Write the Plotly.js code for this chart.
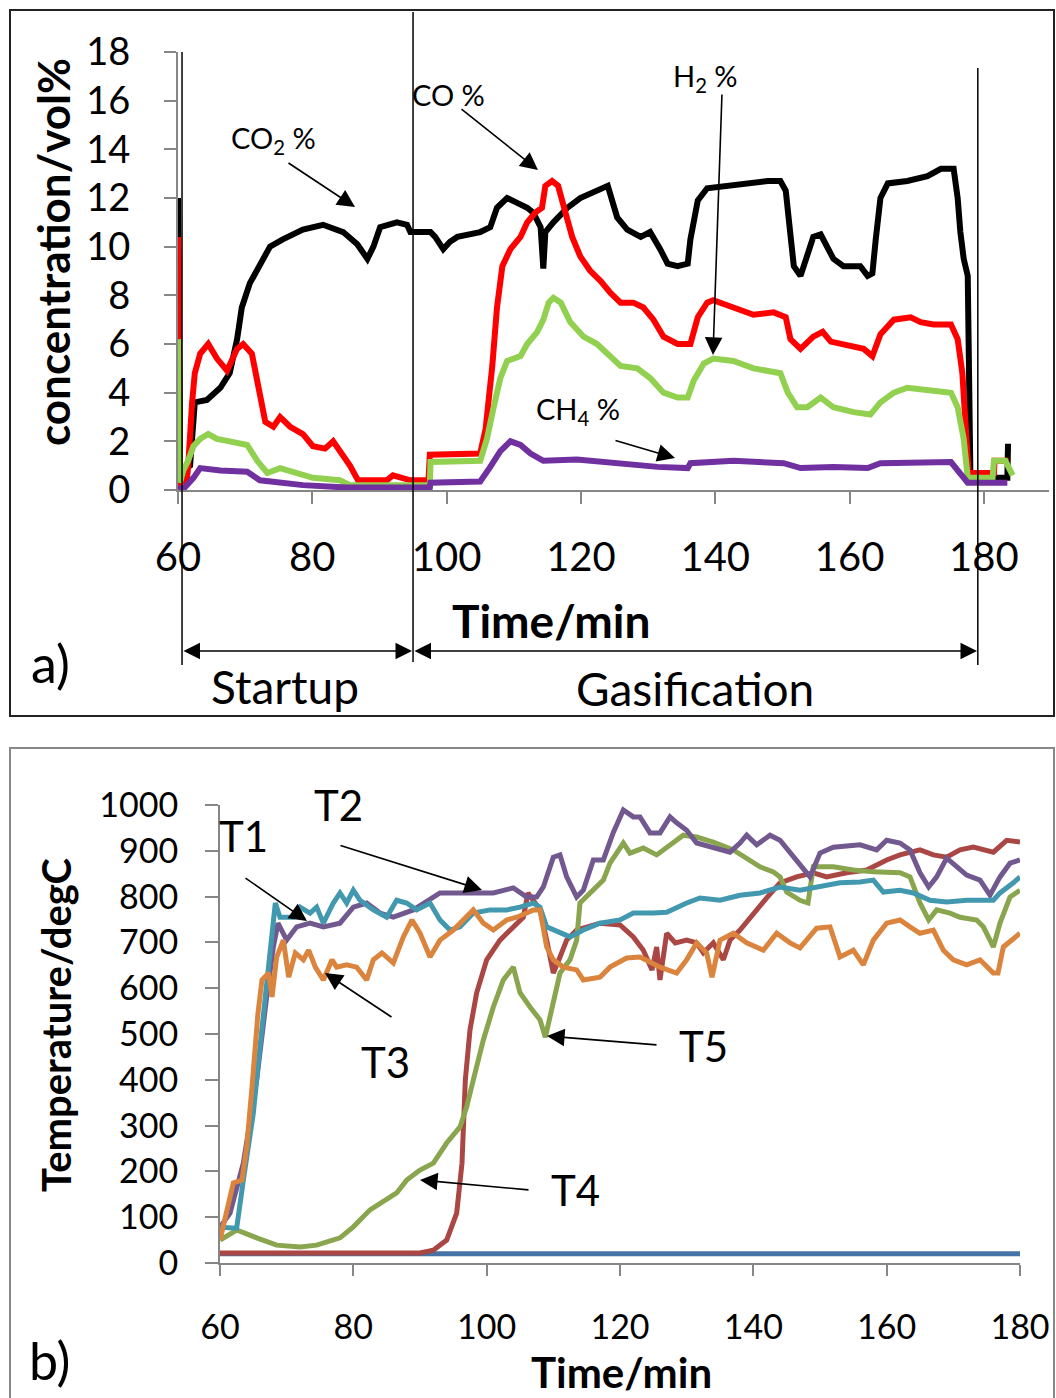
<!DOCTYPE html>
<html>
<head>
<meta charset="utf-8">
<script src="https://cdn.plot.ly/plotly-3.0.1.min.js"></script>
<style>
  html, body { margin: 0; padding: 0; background: #fff; }
  #chart { width: 1056px; height: 1398px; }
</style>
</head>
<body>
<div id="chart"></div>
<script>
// ---------- (a) gas composition, vol% ----------
const co2Time = [60, 60.3, 60.7, 61.8, 62.5, 64.3, 66.3, 67.7, 68.8, 69.5, 70.7, 72.2, 73.7, 75.6, 78.6, 81.6, 84.6, 86.7, 88.2, 89.1, 90.1, 92.6, 94.1, 94.6, 97.6, 98.3, 99.5, 100.5, 101.6, 105, 106.5, 107.5, 109, 110.5, 112, 112.9, 114, 114.4, 114.7, 115.9, 118, 119.9, 122.4, 124, 125.4, 126.9, 128.9, 130.3, 131.8, 132.9, 134.4, 135.9, 136.3, 137.4, 138.8, 143.8, 147.8, 149.7, 150.5, 151, 151.7, 152.7, 153.7, 154.6, 155.7, 156.7, 157.6, 159.1, 161.6, 162.7, 163.4, 163.9, 164.6, 165.7, 168.6, 171.6, 173.6, 175.5, 176.1, 176.5, 177, 177.6, 177.7, 178, 183.5, 183.6];
const co2Vals = [12.0, 0.3, 0.8, 1.0, 3.6, 3.7, 4.2, 4.8, 6.2, 7.5, 8.5, 9.3, 10.0, 10.3, 10.7, 10.9, 10.6, 10.1, 9.5, 10.0, 10.8, 11.0, 10.9, 10.6, 10.6, 10.4, 9.9, 10.2, 10.4, 10.6, 10.8, 11.6, 12.0, 11.8, 11.6, 11.4, 10.8, 9.1, 10.6, 11.0, 11.6, 12.0, 12.3, 12.5, 11.2, 10.7, 10.4, 10.6, 9.9, 9.3, 9.2, 9.3, 10.3, 11.9, 12.4, 12.6, 12.7, 12.7, 12.3, 11.0, 9.2, 8.8, 9.6, 10.4, 10.5, 10.0, 9.5, 9.2, 9.2, 8.8, 8.9, 10.3, 12.0, 12.6, 12.7, 12.9, 13.2, 13.2, 12.0, 10.6, 9.5, 8.8, 4.8, 0.5, 0.5, 1.9];

const coTime = [60, 60.3, 61.3, 61.5, 62.1, 62.5, 63.3, 64.5, 65.8, 67.3, 68.8, 69.7, 71, 72, 73, 74.2, 75.2, 76.7, 78.6, 80.1, 81.9, 83.1, 84.1, 85.6, 86.8, 91.1, 92, 94.6, 97.3, 97.5, 105, 105.8, 106.8, 107.5, 108.3, 109.5, 111, 112, 113.2, 114.2, 114.7, 115.7, 116.6, 117.7, 118.7, 119.9, 121.4, 122.9, 124.4, 125.9, 127.8, 129.3, 130.8, 132.3, 134.4, 136.3, 137.4, 138.8, 139.7, 142.7, 145.7, 148.7, 150.5, 151.2, 152.7, 154.6, 156, 157.2, 158.7, 162.1, 163.4, 164.6, 166.6, 169.1, 170.6, 172.5, 175.1, 176.1, 176.8, 177.3, 177.7, 178, 181.5, 181.6, 183.7];
const coVals = [10.4, 0.3, 0.4, 0.9, 3.6, 4.8, 5.6, 6.0, 5.4, 4.9, 5.8, 6.0, 5.6, 4.1, 2.8, 2.6, 3.0, 2.6, 2.3, 1.8, 1.7, 2.0, 1.6, 1.0, 0.4, 0.4, 0.6, 0.4, 0.4, 1.45, 1.5, 2.5, 5.1, 7.5, 9.2, 9.9, 10.4, 11.0, 11.4, 11.6, 12.5, 12.7, 12.5, 11.4, 10.4, 9.6, 9.0, 8.6, 8.1, 7.7, 7.7, 7.5, 7.0, 6.3, 6.0, 6.0, 7.1, 7.7, 7.8, 7.5, 7.2, 7.3, 7.1, 6.2, 5.8, 6.3, 6.5, 6.1, 6.0, 5.8, 5.5, 6.4, 7.0, 7.1, 6.9, 6.8, 6.8, 6.2, 4.8, 2.8, 0.8, 0.7, 0.7, 1.2, 1.2];

const h2Time = [60, 60.3, 60.8, 61.5, 62.3, 63.3, 64.5, 65.8, 67.7, 70.3, 71.8, 73.3, 75.2, 77.7, 80.1, 84.1, 85.6, 97.5, 97.6, 105, 106, 107, 108, 109, 111, 112, 113.5, 114.4, 115.2, 115.9, 117, 118.4, 120.4, 122.4, 124.4, 125.9, 128.4, 130.3, 132.3, 134.4, 135.9, 136.8, 138.3, 139.7, 142.7, 145.7, 149.7, 150.8, 152.2, 153.7, 155.7, 157.6, 160.6, 163.1, 164.6, 166.6, 168.6, 172.5, 175.1, 176.1, 177, 177.6, 181.3, 181.5, 183.2, 184.3];
const h2Vals = [6.2, 0.3, 0.8, 1.2, 1.8, 2.1, 2.3, 2.1, 2.0, 1.85, 1.2, 0.7, 0.9, 0.7, 0.5, 0.4, 0.2, 0.2, 1.15, 1.2, 2.1, 3.4, 4.6, 5.3, 5.5, 6.0, 6.5, 7.0, 7.7, 7.9, 7.7, 6.9, 6.3, 6.0, 5.5, 5.1, 5.0, 4.6, 4.0, 3.8, 3.8, 4.5, 5.2, 5.4, 5.3, 5.0, 4.8, 4.0, 3.4, 3.4, 3.8, 3.4, 3.2, 3.1, 3.6, 4.0, 4.2, 4.1, 4.0, 3.4, 2.1, 0.5, 0.5, 1.2, 1.2, 0.6];

const ch4Time = [60, 61, 62.3, 63.3, 66.3, 70.3, 72.2, 74.8, 78.6, 85.2, 97.5, 97.6, 105, 106.5, 108, 109.5, 111, 112.5, 114.4, 119.4, 124.4, 131.4, 135.9, 136.3, 142.7, 150.2, 152.7, 157.6, 162.7, 164.6, 175.1, 177, 177.6, 183.5];
const ch4Vals = [0.05, 0.1, 0.5, 0.9, 0.8, 0.75, 0.4, 0.3, 0.2, 0.1, 0.1, 0.3, 0.35, 0.95, 1.6, 2.0, 1.85, 1.5, 1.2, 1.25, 1.1, 0.95, 0.9, 1.1, 1.2, 1.1, 0.9, 0.95, 0.9, 1.1, 1.15, 0.5, 0.3, 0.3];

// phase boundaries (min)
const phaseStart = 60.6, phaseSwitch = 95.0, phaseEnd = 179.1;
const xTicksA = [60, 80, 100, 120, 140, 160, 180];

// ---------- (b) bed temperatures, degC ----------
const baseTime = [60, 180];
const baseVals = [20, 20];

const t5Time = [60, 90, 92, 94, 95.5, 96.3, 96.8, 97.5, 98.5, 100, 102, 104, 105.5, 106.2, 107, 108, 109, 110, 111, 112, 113.5, 115, 117, 120, 122, 123.5, 124.8, 125.5, 126, 127, 128.3, 130, 131.5, 132.5, 134, 135.5, 136.5, 138, 140, 142, 144, 146.5, 149, 151, 154, 157, 160, 162, 165, 167, 169, 171, 173, 176, 178, 180];
const t5Vals = [22, 22, 28, 50, 109, 218, 400, 509, 590, 662, 705, 734, 755, 808, 792, 771, 705, 633, 668, 705, 727, 734, 742, 738, 712, 683, 640, 690, 618, 720, 699, 705, 699, 677, 699, 662, 705, 727, 764, 797, 830, 843, 852, 843, 852, 858, 880, 891, 902, 891, 886, 902, 908, 897, 923, 919];

const t4Time = [60, 62.5, 65.5, 68.5, 72, 74.5, 78, 80, 82.5, 85, 86.5, 88, 90, 92, 94, 96, 97, 98, 99.5, 101, 102.5, 104, 105, 106.5, 108, 108.8, 110, 111, 112.5, 113.5, 114, 115.5, 117.5, 118.5, 120.5, 121.5, 123.5, 125.5, 127.5, 129.5, 131.5, 134, 137, 139, 141, 143, 144, 145, 147, 148.2, 149, 152, 155, 158, 162, 163.5, 165, 166.3, 167.5, 169.5, 171, 173.5, 174.5, 176, 177, 178.5, 180];
const t4Vals = [50, 72, 55, 39, 35, 39, 55, 79, 116, 138, 153, 181, 203, 218, 262, 297, 341, 400, 487, 559, 618, 646, 590, 559, 531, 493, 568, 633, 662, 705, 786, 808, 836, 873, 917, 895, 906, 891, 913, 934, 930, 919, 902, 884, 865, 854, 843, 810, 792, 786, 865, 865, 858, 854, 852, 843, 786, 749, 771, 764, 755, 749, 734, 690, 742, 799, 814];

const t2Time = [60, 61.5, 63.5, 65.5, 67, 68, 68.7, 70, 71.5, 73.5, 75.5, 78, 80, 82, 84, 86, 89, 92, 93, 97, 101, 104, 106, 107.5, 108.5, 110, 111, 112, 113.5, 114.5, 116, 117.5, 119, 120.5, 122, 123, 124.5, 126, 127.5, 128.5, 130, 131.5, 133.5, 136.5, 138, 139, 140.5, 142.5, 144, 145.5, 147.5, 148.5, 150, 152, 156, 158.5, 160, 162, 163.5, 165, 166.3, 167.5, 169, 170.5, 172, 174, 175.5, 177, 178.5, 180];
const t2Vals = [78, 109, 218, 400, 581, 690, 742, 705, 734, 742, 734, 742, 777, 786, 764, 755, 771, 799, 808, 808, 808, 819, 799, 799, 821, 886, 891, 843, 799, 814, 880, 880, 940, 989, 974, 974, 939, 939, 974, 961, 945, 917, 908, 897, 917, 934, 913, 934, 923, 895, 858, 843, 895, 908, 913, 902, 923, 917, 902, 852, 821, 843, 884, 865, 847, 836, 803, 843, 873, 880];

const t1Time = [60, 62.5, 63.5, 65, 66, 67, 67.8, 68.3, 69, 71, 72, 73.5, 74.5, 75.5, 77, 78, 79, 80, 81, 83, 85, 86.5, 88, 89.5, 91.5, 93, 94.5, 96, 98, 100.5, 103, 105, 107, 108, 109, 111, 112.5, 114.5, 117, 120, 122, 125, 127, 130, 132, 135, 138, 141, 144, 147, 150, 153, 156, 158, 159.5, 162, 164, 166.5, 169, 172, 176, 177, 179, 180];
const t1Vals = [78, 76, 181, 327, 472, 618, 727, 786, 755, 755, 777, 764, 777, 742, 786, 808, 786, 814, 792, 771, 755, 792, 786, 771, 786, 749, 727, 734, 764, 771, 771, 777, 786, 777, 734, 720, 712, 727, 742, 749, 764, 764, 766, 786, 797, 792, 803, 808, 821, 814, 821, 830, 832, 836, 810, 814, 808, 792, 788, 792, 792, 808, 830, 843];

const t3Time = [60, 62, 63.3, 64, 64.8, 65.7, 66.3, 67.3, 67.8, 68.5, 69.5, 70.3, 71.3, 72.5, 73.3, 74.3, 75.5, 76.8, 77.5, 79, 80.5, 82, 83, 84.3, 86, 87.5, 88.8, 90, 91.5, 93, 95, 97, 98, 99.5, 101, 103, 104.5, 106, 107, 108, 109, 110, 111.5, 113.5, 114.5, 117, 118.5, 121, 123, 124.5, 126, 128.5, 130, 131.5, 133, 133.8, 135, 137, 139, 141.5, 143.5, 145.5, 147, 149.5, 151.5, 153, 155, 156.5, 158, 160, 162, 163.5, 165, 167, 168.5, 170, 172, 174, 176, 176.7, 177.5, 180];
const t3Vals = [50, 175, 181, 253, 384, 546, 618, 633, 581, 668, 705, 624, 677, 662, 683, 646, 618, 662, 646, 651, 646, 618, 662, 677, 655, 712, 749, 720, 668, 705, 727, 755, 771, 742, 727, 749, 755, 764, 771, 771, 690, 662, 646, 640, 618, 624, 646, 666, 668, 657, 646, 633, 662, 699, 677, 624, 705, 720, 699, 683, 720, 699, 688, 731, 734, 668, 683, 651, 705, 742, 749, 734, 720, 727, 683, 662, 651, 662, 633, 633, 690, 720];

const xTicksB = [60, 80, 100, 120, 140, 160, 180];
const yTicksB = [0, 100, 200, 300, 400, 500, 600, 700, 800, 900, 1000];

// ---------- page geometry helpers (pixel -> paper) ----------
const W = 1056, H = 1398;
const px = v => v / W;
const py = v => 1 - v / H;
const FONT = 'Lato, "Open Sans", sans-serif';

function line(x, y, name, color, width, xa, ya) {
  return { x, y, name, type: 'scatter', mode: 'lines', xaxis: xa, yaxis: ya,
           line: { color, width, shape: 'linear' }, hoverinfo: 'x+y+name' };
}

const traces = [
  line(co2Time, co2Vals, 'CO2 %', '#000000', 6, 'x', 'y'),
  line(coTime, coVals, 'CO %', '#FF0000', 6, 'x', 'y'),
  line(h2Time, h2Vals, 'H2 %', '#92D050', 6, 'x', 'y'),
  line(ch4Time, ch4Vals, 'CH4 %', '#7030A0', 6, 'x', 'y'),

  line(baseTime, baseVals, 'T0', '#4572A7', 5, 'x2', 'y2'),
  line(t5Time, t5Vals, 'T5', '#AA4643', 5, 'x2', 'y2'),
  line(t4Time, t4Vals, 'T4', '#89A54E', 5, 'x2', 'y2'),
  line(t2Time, t2Vals, 'T2', '#71588F', 5, 'x2', 'y2'),
  line(t1Time, t1Vals, 'T1', '#4198AF', 5, 'x2', 'y2'),
  line(t3Time, t3Vals, 'T3', '#DB843D', 5, 'x2', 'y2')
];

const axisGrey = '#868686';
const baseAxis = {
  showgrid: false, zeroline: false, showline: true, linecolor: axisGrey, linewidth: 2,
  ticks: 'outside', tickcolor: axisGrey, tickwidth: 2, fixedrange: true
};

// text labels
function label(text, x, y, size, extra) {
  return Object.assign({ text, x: px(x), y: py(y), xref: 'paper', yref: 'paper',
    showarrow: false, xanchor: 'center', yanchor: 'middle',
    font: { family: FONT, size, color: '#000' } }, extra || {});
}
// plain arrows drawn tail -> head (pixel positions)
function arrow(tx, ty, hx, hy, opts) {
  return Object.assign({ text: '', x: px(hx), y: py(hy), xref: 'paper', yref: 'paper',
    ax: tx - hx, ay: ty - hy, axref: 'pixel', ayref: 'pixel', showarrow: true,
    arrowhead: 2, arrowsize: 2.2, arrowwidth: 1.6, arrowcolor: '#000', standoff: 0, startstandoff: 0 }, opts || {});
}
const bold = size => ({ family: FONT, size, color: '#000', weight: 'bold' });

const annotations = [
  // (a) axis titles and phase labels
  label('concentration/vol%', 53, 252, 44, { textangle: -90, font: bold(44) }),
  label('Time/min', 551, 620, 46, { font: bold(46) }),
  label('a)', 50, 663, 52),
  label('Startup', 285, 686, 46),
  label('Gasification', 695, 688, 46),
  label('CO<sub>2</sub> %', 273, 140, 29),
  label('CO %', 448, 95, 29),
  label('H<sub>2</sub> %', 705, 77, 29),
  label('CH<sub>4</sub> %', 578, 410, 29),
  arrow(287, 162, 355, 207),
  arrow(460, 108, 538, 170),
  arrow(722, 93, 713, 355),
  arrow(614, 440, 675, 458),
  // phase span arrows
  arrow(182, 651, 412, 651, { arrowside: 'end+start', arrowwidth: 1.5 }),
  arrow(413, 651, 977, 651, { arrowside: 'end+start', arrowwidth: 1.5 }),

  // (b) axis titles and probe labels
  label('Temperature/degC', 56, 1025, 40, { textangle: -90, font: bold(40) }),
  label('Time/min', 621, 1372, 42, { font: bold(42) }),
  label('b)', 50, 1360, 52),
  label('T1', 243, 836, 42),
  label('T2', 338, 805, 42),
  label('T3', 385, 1062, 42),
  label('T4', 575, 1190, 42),
  label('T5', 703, 1046, 42),
  arrow(244, 877, 307, 921),
  arrow(339, 845, 482, 890),
  arrow(393, 1018, 325, 973),
  arrow(530, 1190, 420, 1180),
  arrow(658, 1045, 547, 1036)
];

const shapes = [
  // panel frames
  { type: 'rect', xref: 'paper', yref: 'paper', x0: px(10), x1: px(1054), y0: py(716), y1: py(10),
    line: { color: '#222', width: 2 }, fillcolor: 'rgba(0,0,0,0)' },
  { type: 'rect', xref: 'paper', yref: 'paper', x0: px(10), x1: px(1054), y0: py(1400), y1: py(748),
    line: { color: '#888', width: 2 }, fillcolor: 'rgba(0,0,0,0)' },
  // phase boundaries in (a)
  { type: 'line', xref: 'x', yref: 'paper', x0: phaseStart, x1: phaseStart, y0: py(665), y1: py(52), line: { color: '#000', width: 1.5 } },
  { type: 'line', xref: 'x', yref: 'paper', x0: phaseSwitch, x1: phaseSwitch, y0: py(662), y1: py(12), line: { color: '#000', width: 1.5 } },
  { type: 'line', xref: 'x', yref: 'paper', x0: phaseEnd, x1: phaseEnd, y0: py(665), y1: py(68), line: { color: '#000', width: 1.5 } }
];

const layout = {
  width: W, height: H, autosize: false,
  margin: { l: 0, r: 0, t: 0, b: 0, pad: 0 },
  paper_bgcolor: '#fff', plot_bgcolor: 'rgba(0,0,0,0)',
  showlegend: false,
  font: { family: FONT, color: '#000' },
  xaxis: Object.assign({}, baseAxis, {
    domain: [px(178), px(1049)], range: [60, 189.7], anchor: 'y',
    tickvals: xTicksA, ticklen: 12, tickfont: { family: FONT, size: 40 }, ticklabelstandoff: 19
  }),
  yaxis: Object.assign({}, baseAxis, {
    domain: [py(490), py(52)], range: [0, 18], dtick: 2, tick0: 0, anchor: 'x',
    ticklen: 12, tickfont: { family: FONT, size: 38 }, ticklabelstandoff: 26
  }),
  xaxis2: Object.assign({}, baseAxis, {
    domain: [px(220), px(1020)], range: [60, 180], anchor: 'y2',
    tickvals: xTicksB, ticklen: 11, tickfont: { family: FONT, size: 34 }, ticklabelstandoff: 22
  }),
  yaxis2: Object.assign({}, baseAxis, {
    domain: [py(1263), py(805)], range: [0, 1000], anchor: 'x2',
    tickvals: yTicksB, ticklen: 13, tickfont: { family: FONT, size: 34 }, ticklabelstandoff: 20
  }),
  annotations, shapes
};

Plotly.newPlot('chart', traces, layout, { staticPlot: true, displayModeBar: false });
</script>
</body>
</html>
